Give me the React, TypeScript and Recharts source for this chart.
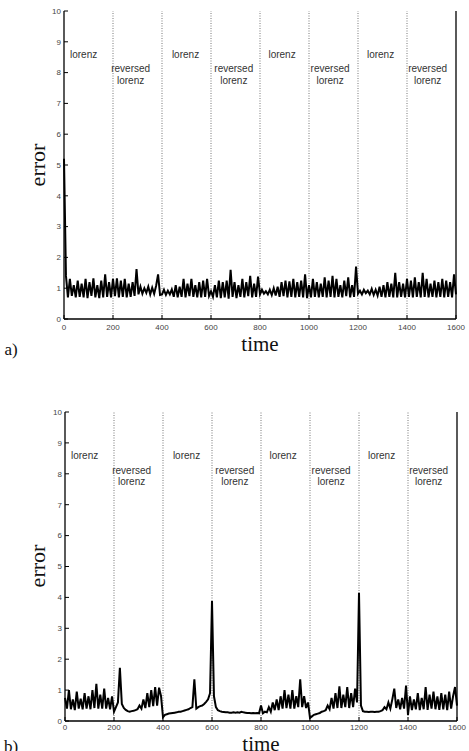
import React from 'react';
import { LineChart, Line, XAxis, YAxis, ReferenceLine, ReferenceDot } from 'recharts';

// sampled every 8 time units, 0..1600
const sampleStep = 8;

const errorA = [
  5.2, 1.4, 0.7, 1.3, 0.75, 1.1, 0.7, 1.25, 0.72, 1.15,
  0.7, 1.3, 0.68, 1.2, 0.75, 1.32, 0.7, 1.1, 0.68, 1.25,
  0.7, 1.45, 0.72, 1.2, 0.7, 1.3, 0.74, 1.32, 0.7, 1.25,
  0.72, 1.3, 0.7, 1.15, 0.72, 1.2, 0.75, 1.62, 0.8, 1.05,
  0.82, 1.0, 0.85, 1.05, 0.8, 1.02, 0.82, 1.08, 1.45, 0.78,
  0.8, 0.95, 0.78, 0.92, 0.8, 0.96, 0.72, 1.1, 0.7, 1.05,
  0.72, 1.3, 0.7, 1.15, 0.74, 1.3, 0.72, 1.1, 0.7, 1.2,
  0.7, 1.25, 0.72, 1.3, 0.75, 0.9, 0.72, 1.1, 0.7, 1.25,
  0.68, 1.2, 0.7, 1.25, 0.66, 1.6, 0.72, 1.2, 0.68, 1.1,
  0.72, 1.3, 0.7, 1.2, 0.74, 1.4, 0.7, 1.15, 0.72, 1.38,
  0.8, 0.95, 0.82, 0.9, 0.8, 0.95, 0.78, 1.0, 0.76, 1.05,
  0.72, 1.2, 0.74, 1.25, 0.7, 1.22, 0.72, 1.3, 0.7, 1.2,
  0.72, 1.25, 0.7, 1.45, 0.68, 1.1, 0.7, 1.3, 0.72, 1.2,
  0.7, 1.15, 0.72, 1.35, 0.7, 1.25, 0.72, 1.4, 0.7, 1.3,
  0.72, 1.1, 0.7, 1.25, 0.74, 1.35, 0.7, 1.1, 0.72, 1.7,
  0.82, 0.92, 0.8, 0.95, 0.84, 0.92, 0.8, 0.98, 0.78, 0.95,
  0.76, 1.05, 0.72, 1.1, 0.7, 1.2, 0.72, 1.15, 0.7, 1.5,
  0.7, 1.2, 0.72, 1.15, 0.7, 1.3, 0.72, 1.25, 0.7, 1.35,
  0.72, 1.2, 0.7, 1.5, 0.72, 1.3, 0.7, 1.15, 0.72, 1.25,
  0.7, 1.2, 0.72, 1.3, 0.7, 1.25, 0.72, 1.2, 0.7, 1.45,
  0.8,
];

const errorB = [
  0.75, 0.4, 1.0, 0.38, 0.7, 0.35, 0.95, 0.4, 0.72, 0.38,
  0.9, 0.4, 0.8, 0.38, 1.0, 0.42, 1.2, 0.4, 0.85, 0.4,
  1.05, 0.4, 0.75, 0.38, 0.8, 0.3, 0.45, 0.6, 1.72, 0.55,
  0.42, 0.36, 0.32, 0.3, 0.32, 0.33, 0.35, 0.38, 0.5, 0.4,
  0.7, 0.42, 0.9, 0.45, 1.0, 0.48, 1.1, 0.5, 1.08, 0.8,
  0.12, 0.2, 0.22, 0.24, 0.25, 0.26, 0.27, 0.28, 0.3, 0.3,
  0.32, 0.34, 0.36, 0.38, 0.42, 0.45, 1.35, 0.4, 0.45, 0.48,
  0.5, 0.55, 0.62, 0.7, 0.9, 3.88, 0.8, 0.45, 0.35, 0.32,
  0.3, 0.29, 0.28, 0.28, 0.27, 0.27, 0.28, 0.27, 0.28, 0.27,
  0.3, 0.28, 0.27, 0.26, 0.26, 0.25, 0.26, 0.25, 0.26, 0.25,
  0.5, 0.25, 0.3, 0.28, 0.45, 0.3, 0.6, 0.35, 0.7, 0.35,
  0.8, 0.4, 1.0, 0.42, 0.85, 0.4, 1.0, 0.4, 0.8, 0.45,
  1.35, 0.45, 0.8, 0.42, 0.6, 0.1, 0.15, 0.2, 0.22, 0.24,
  0.26, 0.3, 0.32, 0.35, 0.5, 0.38, 0.75, 0.4, 0.9, 0.42,
  1.12, 0.42, 0.85, 0.45, 1.1, 0.42, 0.9, 0.45, 1.05, 0.6,
  4.15, 0.5, 0.32, 0.3, 0.3, 0.29, 0.3, 0.3, 0.29, 0.3,
  0.3, 0.32, 0.35, 0.45, 0.38, 0.6, 0.4, 0.7, 1.05, 0.42,
  0.7, 0.38, 0.75, 0.4, 1.15, 0.2, 0.8, 0.35, 0.7, 0.38,
  0.9, 0.35, 0.75, 0.38, 1.1, 0.36, 0.85, 0.4, 0.95, 0.38,
  0.8, 0.36, 0.9, 0.38, 0.85, 0.35, 0.95, 0.4, 0.8, 1.1,
  0.5,
];

const xTicks = [0, 200, 400, 600, 800, 1000, 1200, 1400, 1600];
const yTicks = [0, 1, 2, 3, 4, 5, 6, 7, 8, 9, 10];
const boundaries = [200, 400, 600, 800, 1000, 1200, 1400];

const lorenzX = [80, 496, 890, 1292];
const reversedX = [272, 693, 1086, 1484];
const lorenzY = 8.6;
const reversedY = [8.12, 7.75];

const tickFont = { fontSize: 8, fill: '#444', fontFamily: 'Liberation Sans, Arial, sans-serif' };
const serif = '"Liberation Serif", "Times New Roman", serif';

const toRows = (values: number[]) => values.map((v, i) => ({ t: i * sampleStep, err: v }));

const RegionText = (text: string) => (props: any) => (
  <text
    x={props.cx}
    y={props.cy}
    textAnchor="middle"
    dominantBaseline="central"
    fontSize={10}
    fill="#333"
    fontFamily="Liberation Sans, Arial, sans-serif"
  >
    {text}
  </text>
);

interface PanelProps {
  values: number[];
  top: number;
  leftW: number;
  rightW: number;
  plotH: number;
  xMargin: number;
}

const Panel: React.FC<PanelProps> = ({ values, top, leftW, rightW, plotH, xMargin }) => {
  const data = toRows(values);
  return (
    <div style={{ position: 'absolute', left: 0, top }}>
      <LineChart width={469} height={11 + plotH + 20} data={data} margin={{ top: 11, right: 0, left: 0, bottom: 0 }}>
        <XAxis
          dataKey="t"
          type="number"
          domain={[0, 1600]}
          ticks={xTicks}
          height={20}
          tickSize={-4}
          tickMargin={xMargin}
          tick={tickFont}
          stroke="#000"
          axisLine={{ stroke: '#000', strokeWidth: 1.3 }}
          tickLine={{ stroke: '#000' }}
        />
        <XAxis
          xAxisId="top"
          orientation="top"
          type="number"
          domain={[0, 1600]}
          ticks={xTicks}
          height={0}
          tickSize={-4}
          tickFormatter={() => ''}
          axisLine={{ stroke: '#000', strokeWidth: 1.3 }}
          tickLine={{ stroke: '#000' }}
        />
        <YAxis
          type="number"
          domain={[0, 10]}
          ticks={yTicks}
          width={leftW}
          tickSize={-4}
          tickMargin={7}
          tick={tickFont}
          axisLine={{ stroke: '#000', strokeWidth: 1.3 }}
          tickLine={{ stroke: '#000' }}
        />
        <YAxis
          yAxisId="right"
          orientation="right"
          type="number"
          domain={[0, 10]}
          ticks={yTicks}
          width={rightW}
          tickSize={-4}
          tickFormatter={() => ''}
          axisLine={{ stroke: '#000', strokeWidth: 1.3 }}
          tickLine={{ stroke: '#000' }}
        />
        {boundaries.map((b) => (
          <ReferenceLine key={b} x={b} stroke="#777" strokeDasharray="1 1.5" strokeWidth={1} />
        ))}
        {lorenzX.map((x) => (
          <ReferenceDot key={`l${x}`} x={x} y={lorenzY} r={0} shape={RegionText('lorenz')} />
        ))}
        {reversedX.map((x) => (
          <ReferenceDot key={`r${x}`} x={x} y={reversedY[0]} r={0} shape={RegionText('reversed')} />
        ))}
        {reversedX.map((x) => (
          <ReferenceDot key={`rl${x}`} x={x} y={reversedY[1]} r={0} shape={RegionText('lorenz')} />
        ))}
        <Line
          type="linear"
          dataKey="err"
          stroke="#000"
          strokeWidth={2}
          strokeLinejoin="miter"
          dot={false}
          isAnimationActive={false}
        />
      </LineChart>
    </div>
  );
};

const Caption: React.FC<{ x: number; y: number; size: number; rotate?: boolean; children: React.ReactNode }> = ({
  x, y, size, rotate, children,
}) => (
  <div
    style={{
      position: 'absolute',
      left: x,
      top: y,
      fontFamily: serif,
      fontSize: size,
      lineHeight: 1,
      color: '#111',
      whiteSpace: 'nowrap',
      transform: rotate ? 'translate(-50%, -50%) rotate(-90deg)' : 'translate(-50%, -50%)',
    }}
  >
    {children}
  </div>
);

export default function App() {
  return (
    <div style={{ position: 'absolute', left: 0, top: 0, width: 469, height: 751, background: '#fff', overflow: 'hidden' }}>
      <Panel values={errorA} top={0} leftW={64} rightW={13} plotH={308} xMargin={9} />
      <Caption x={38} y={165} size={22} rotate>error</Caption>
      <Caption x={260} y={344} size={21}>time</Caption>
      <Caption x={11} y={349} size={17}>a)</Caption>

      <Panel values={errorB} top={401} leftW={65} rightW={12} plotH={309} xMargin={7} />
      <Caption x={38} y={566} size={22} rotate>error</Caption>
      <Caption x={261} y={744} size={21}>time</Caption>
      <Caption x={11} y={746} size={17}>b)</Caption>
    </div>
  );
}
